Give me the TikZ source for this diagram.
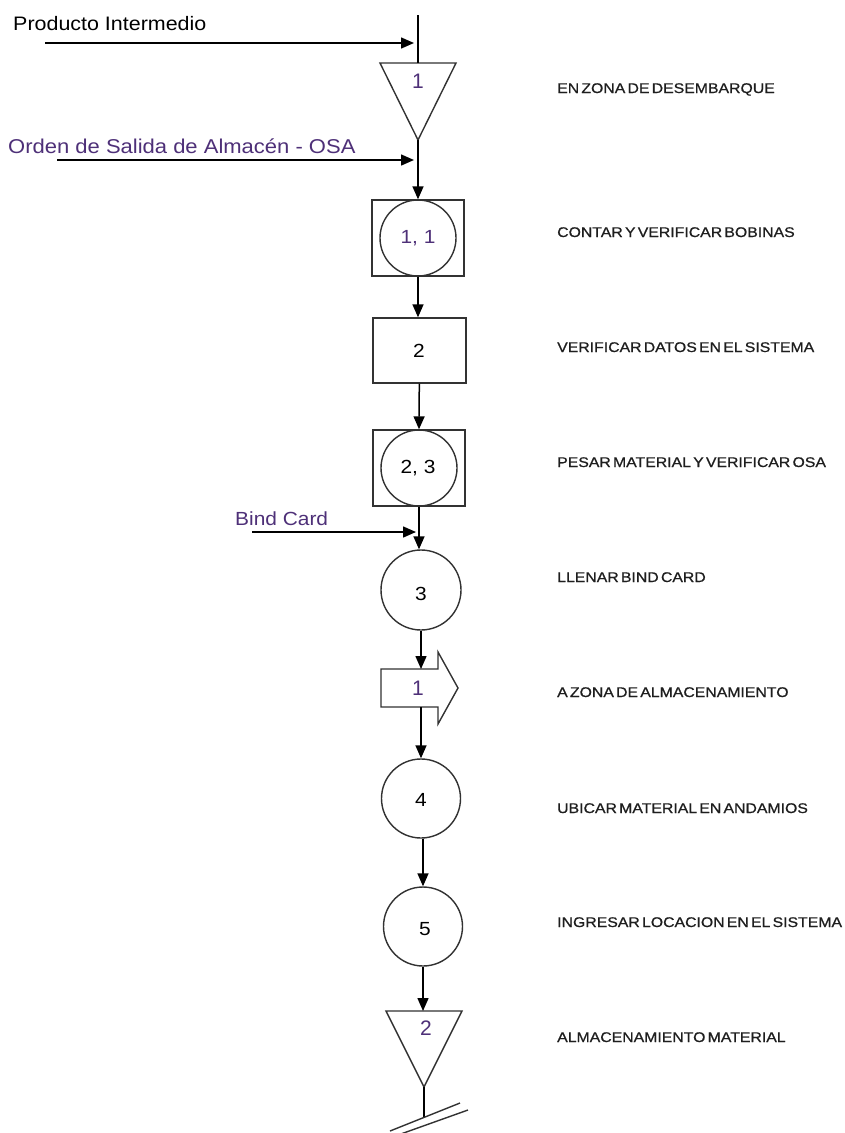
\documentclass[tikz,border=0pt]{standalone}
\usepackage{fontspec}
\setmainfont{Liberation Sans}
\newfontfamily\heavysans[FakeBold=0.7]{Liberation Sans}
\usepackage{graphicx}
\usetikzlibrary{arrows.meta}
\definecolor{labelpurple}{RGB}{78,48,120}
\definecolor{stepgray}{RGB}{50,50,50}
\definecolor{notegray}{RGB}{30,30,30}
% horizontally widened text
\newcommand\wider[2][1.1]{\scalebox{#1}[1]{#2}}
% step descriptions: heavy capitals with tight word spacing
\newcommand\notestyle{\heavysans\fontsize{14}{14}\selectfont\spaceskip=0.14em\relax}

\begin{document}
\begin{tikzpicture}[x=1pt,y=-1pt,
  flow/.style={line width=1.5pt, draw=black, -{Triangle[length=13pt,width=11pt]}},
  plainline/.style={line width=1.5pt, draw=black},
  outline/.style={draw=stepgray, line width=1.4pt},
  opcircle/.style={outline, circle, minimum size=76pt, inner sep=0pt},
  opbox/.style={outline, rectangle, minimum width=92pt, minimum height=76pt, inner sep=0pt},
  inspbox/.style={outline, rectangle, minimum width=93pt, minimum height=65pt, inner sep=0pt},
  numtext/.style={font=\fontsize{19}{19}\selectfont, inner sep=0pt},
  marktext/.style={font=\fontsize{21}{21}\selectfont, text=labelpurple, inner sep=0pt},
  note/.style={anchor=base west, font=\notestyle, text=notegray, inner sep=0pt},
  inputlabel/.style={anchor=base west, inner sep=0pt},
]
\fill[white] (0,0) rectangle (845,1133);
\useasboundingbox (0,0) rectangle (845,1133);

% ---- incoming documents and material ----
\node[inputlabel, font=\fontsize{19.5}{19.5}\selectfont] (pilab) at (13,30) {\wider{Producto Intermedio}};
\node[inputlabel, font=\fontsize{20}{20}\selectfont, text=labelpurple] (osalab) at (8,153) {\wider{Orden de Salida de Almacén - OSA}};
\node[inputlabel, font=\fontsize{19}{19}\selectfont, text=labelpurple] (bclab) at (235,525) {\wider{Bind Card}};

% ---- storage 1 (triangle) ----
\coordinate (feed) at (418,15);
\coordinate (t1top) at (418,63);
\draw[outline] (380,63) -- (456,63) -- (418,140) coordinate (t1b) -- cycle;
\node[marktext] (t1lab) at (418,81) {1};
\draw[plainline] (feed) -- (t1top);

\coordinate (pistart) at (45,43);
\coordinate (pijoin) at (418,43);
\draw[flow, shorten >=4pt] (pistart) -- (pijoin);

\coordinate (osastart) at (57,160);
\coordinate (osajoin) at (418,160);
\draw[flow, shorten >=4pt] (osastart) -- (osajoin);

% ---- combined operation / inspection 1 ----
\node[opbox] (b1) at (418,238) {};
\node[opcircle] (c1) at (418,238) {};
\node[numtext, text=labelpurple] (b1lab) at (418,238) {\wider{1, 1}};

% ---- inspection 2 ----
\node[inspbox] (r2) at (419.3,350.5) {};
\node[numtext] (r2lab) at (419,351) {\wider{2}};

% ---- combined operation / inspection 2 ----
\node[opbox] (b2) at (419,468) {};
\node[opcircle] (c2) at (419,468) {};
\node[numtext] (b2lab) at (418,468) {\wider{2, 3}};

% ---- operation 3 ----
\node[opcircle, minimum size=80pt] (c3) at (421,590) {};
\node[numtext] (c3lab) at (421,594) {\wider{3}};

\coordinate (bcstart) at (252,532);
\coordinate (bcjoin) at (419,532);
\draw[flow, shorten >=3pt] (bcstart) -- (bcjoin);

% ---- transport 1 (arrow shape) ----
\draw[outline] (381,669) -- (438,669) -- (438,652) -- (458,688) -- (438,724)
  -- (438,707) -- (381,707) -- cycle;
\coordinate (trn) at (421,669);
\coordinate (trs) at (421,707);
\node[marktext] (trlab) at (418,688) {1};

% ---- operations 4 and 5 ----
\node[opcircle, minimum size=79pt] (c4) at (421,798.5) {};
\node[numtext] (c4lab) at (421,800) {\wider{4}};
\node[opcircle, minimum size=79pt] (c5) at (423,926.5) {};
\node[numtext] (c5lab) at (425,929) {\wider{5}};

% ---- storage 2 (triangle) ----
\coordinate (t2top) at (424,1011);
\draw[outline] (386,1011) -- (462,1011) -- (424,1087) coordinate (t2b) -- cycle;
\node[marktext] (t2lab) at (426,1028) {2};
\coordinate (groundtop) at (424,1118);
\draw[plainline] (t2b) -- (groundtop);
\draw[outline] (390,1131) -- (460,1103);
\draw[outline] (398,1135) -- (468,1110);

% ---- flow connectors ----
\draw[flow] (t1b) -- (b1.north);
\draw[flow] (b1.south) -- (b1.south |- r2.north);
\draw[flow] (r2.south) -- (b2.north);
\draw[flow] (b2.south) -- (b2.south |- c3.north);
\draw[flow] (c3.south) -- (trn);
\draw[flow] (trs) -- (c4.north);
\draw[flow] (c4.south -| c5.south) -- (c5.north);
\draw[flow] (c5.south) -- (c5.south |- t2top);

% ---- step descriptions ----
\node[note] (n1) at (557,93)   {\wider[1.13]{EN ZONA DE DESEMBARQUE}};
\node[note] (n2) at (557,237)  {\wider[1.13]{CONTAR Y VERIFICAR BOBINAS}};
\node[note] (n3) at (557,352)  {\wider[1.13]{VERIFICAR DATOS EN EL SISTEMA}};
\node[note] (n4) at (557,467)  {\wider[1.13]{PESAR MATERIAL Y VERIFICAR OSA}};
\node[note] (n5) at (557,582)  {\wider[1.13]{LLENAR BIND CARD}};
\node[note] (n6) at (557,697)  {\wider[1.13]{A ZONA DE ALMACENAMIENTO}};
\node[note] (n7) at (557,813)  {\wider[1.13]{UBICAR MATERIAL EN ANDAMIOS}};
\node[note] (n8) at (557,927)  {\wider[1.13]{INGRESAR LOCACION EN EL SISTEMA}};
\node[note] (n9) at (557,1042) {\wider[1.13]{ALMACENAMIENTO MATERIAL}};
\end{tikzpicture}
\end{document}
